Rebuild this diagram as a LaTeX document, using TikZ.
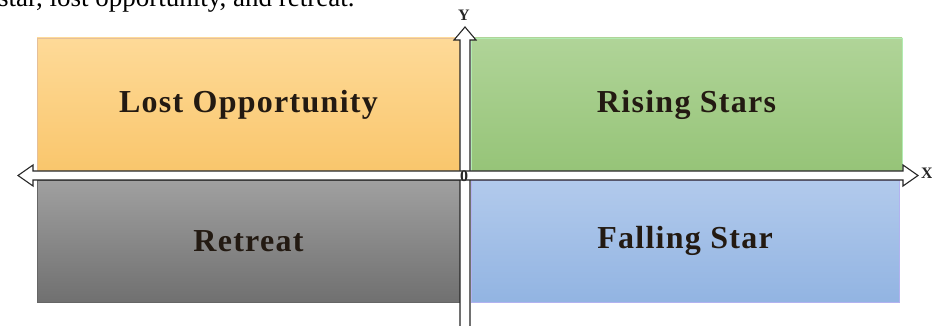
\documentclass[tikz,border=0pt]{standalone}
\usepackage{fontspec}
\setmainfont{Liberation Serif}
\usetikzlibrary{calc}
\definecolor{txt}{HTML}{231A12}
\tikzset{
  quad/.style={inner sep=0pt, line width=0.6pt, font=\fontsize{32}{36}\selectfont\bfseries\addfontfeature{LetterSpace=4}, text=txt},
  axisline/.style={fill=white, draw=black!85, line width=1.1pt, line join=miter},
  axlabel/.style={font=\fontsize{16}{18}\selectfont\bfseries, inner sep=0pt, text=black!85}
}
\begin{document}
\begin{tikzpicture}[x=1pt,y=-1pt]
\useasboundingbox (0,0) rectangle (932,326);
\clip (0,0) rectangle (932,326);

\node[anchor=base west, inner sep=0pt, font=\fontsize{27}{30}\selectfont] (cap) at (-2,6.5) {star, lost opportunity, and retreat.};

\node[quad, draw=black!25!orange!40, top color={rgb,255:red,254;green,218;blue,152}, bottom color={rgb,255:red,249;green,198;blue,108}, minimum width=423pt, minimum height=133pt] (lost) at (248.5,104.5) {Lost Opportunity};
\node[quad, draw=black!25!green!30, top color={rgb,255:red,176;green,212;blue,152}, bottom color={rgb,255:red,150;green,196;blue,120}, minimum width=431pt, minimum height=133pt] (rise) at (686.5,104.5) {Rising Stars};
\node[quad, draw=black!60, top color={rgb,255:red,160;green,160;blue,160}, bottom color={rgb,255:red,112;green,112;blue,112}, minimum width=423pt, minimum height=122pt] (retr) at (248.5,241) {Retreat};
\node[quad, draw=black!20!blue!30, top color={rgb,255:red,178;green,202;blue,236}, bottom color={rgb,255:red,146;green,180;blue,226}, minimum width=428pt, minimum height=122pt] (fall) at (685,241) {Falling Star};

\coordinate (yt) at (465,27);
\coordinate (yb) at (465,342);
\coordinate (xl) at (18,175.5);
\coordinate (xr) at (918,175.5);

\draw[axisline] (yt) -- +(11,13) -- +(5,13) -- ($(yb)+(5,-13)$) -- ($(yb)+(11,-13)$) -- (yb)
  -- ($(yb)+(-11,-13)$) -- ($(yb)+(-5,-13)$) -- ($(yt)+(-5,13)$) -- ($(yt)+(-11,13)$) -- cycle;
\draw[axisline] (xl) -- +(15,-10.5) -- +(15,-4.5) -- ($(xr)+(-15,-4.5)$) -- ($(xr)+(-15,-10.5)$) -- (xr)
  -- ($(xr)+(-15,10.5)$) -- ($(xr)+(-15,4.5)$) -- ($(xl)+(15,4.5)$) -- ($(xl)+(15,10.5)$) -- cycle;

\node[axlabel] (ylab) at (464,15) {Y};
\node[axlabel] (xlab) at (927,173) {X};
\node[axlabel] (orig) at (464,176) {0};
\end{tikzpicture}
\end{document}
